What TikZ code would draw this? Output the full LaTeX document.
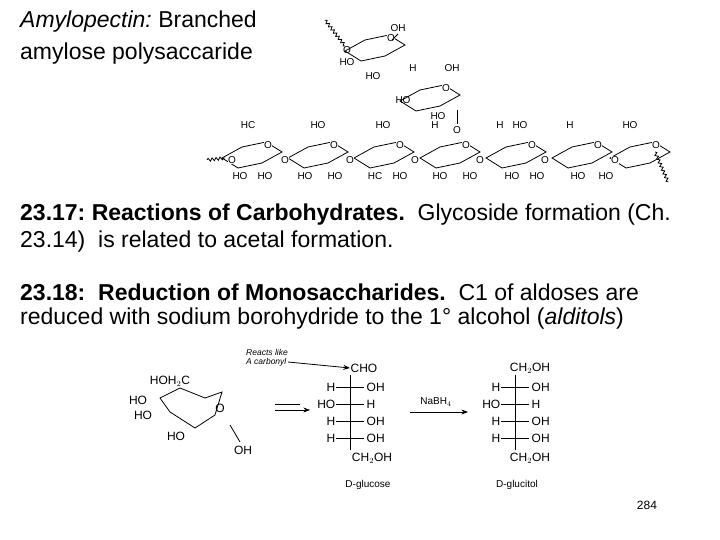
\documentclass[tikz,border=0pt]{standalone}
\usepackage{fontspec}
\setmainfont{Liberation Sans}
\usetikzlibrary{arrows.meta,decorations.pathmorphing}
\frenchspacing
\begin{document}
\begin{tikzpicture}[x=1pt,y=-1pt,
  big/.style={anchor=west,inner sep=0,font=\fontsize{23}{27}\selectfont},
  lbl/.style={inner sep=0.5,font=\fontsize{10}{11}\selectfont},
  sm/.style={inner sep=0.5,font=\fontsize{12}{13}\selectfont},
  bond/.style={line width=0.8pt},
  wig/.style={decorate,decoration={snake,amplitude=1.5pt,segment length=4pt}},
  chair/.pic={\draw[bond] (-30,3)--(-14,13)--(10,8)--(30,-3)--(14,-13)--(-10,-8)--cycle;
    \node[lbl,fill=white] at (16,-10) {O};}]
\useasboundingbox (0,0) rectangle (720,540);
\node[big] (t1) at (20,22) {\textit{Amylopectin:} Branched};
\node[big] (t2) at (20,54) {amylose polysaccaride};
% branch rings
\pic at (375,48) {chair};
\pic at (430,98) {chair};
\node[lbl] (a1) at (398,28) {OH};
\node[lbl] (a2) at (347,50) {O};
\node[lbl] (a3) at (347,62) {HO};
\node[lbl] (a4) at (373,76) {HO};
\node[lbl] (a5) at (413,68) {H};
\node[lbl] (a6) at (452,68) {OH};
\node[lbl] (a7) at (403,100) {HO};
\node[lbl] (a8) at (438,116) {HO};
\node[lbl] (a9) at (457,130) {O};
\draw[bond,wig] (345,46)--(325,20);
\draw[bond] (398,34)--(392,40);
\draw[bond] (457,110)--(457,124);
% main chain
\foreach \i/\x in {1/252,2/318,3/384,4/450,5/516,6/582,7/640}{
  \pic at (\x,155) {chair};}
\foreach \x/\t in {248/HC,318/HO,383/HO,435/H,500/H,520/HO,570/H,630/HO}{
  \node[lbl] at (\x,125) {\t};}
\foreach \x/\t in {240/HO,265/HO,305/HO,335/HO,375/HC,400/HO,440/HO,470/HO,512/HO,537/HO,578/HO,606/HO}{
  \node[lbl] at (\x,176) {\t};}
\foreach \x in {232,285,350,415,480,545,615}{\node[lbl,fill=white] at (\x,160) {O};}
\draw[bond,wig] (207,160)--(225,158);
\draw[bond,wig] (655,152)--(668,182);
% headings
\node[big] (h1) at (20,215) {\textbf{23.17: Reactions of Carbohydrates.} \ Glycoside formation (Ch.};
\node[big] (h2) at (20,242) {23.14) \ is related to acetal formation.};
\node[big] (h3) at (20,292) {\textbf{23.18: \ Reduction of Monosaccharides.} \ C1 of aldoses are};
\node[big] (h4) at (20,319) {reduced with sodium borohydride to the 1° alcohol (\textit{alditols})};
% glucose ring
\draw[bond] (160,398)--(180,388)--(205,398)--(222,392)--(215,415)--(195,428)--(170,412)--cycle;
\node[sm] (g1) at (170,381) {HOH$_2$C};
\node[sm] (g2) at (138,400) {HO};
\node[sm] (g3) at (143,415) {HO};
\node[sm] (g4) at (176,436) {HO};
\node[sm] (g5) at (220,408) {O};
\node[sm] (g6) at (243,450) {OH};
\draw[bond] (230,425)--(240,442);
% arrows
\draw[bond,-{Stealth}] (275,410)--(310,410);
\draw[bond] (275,404)--(300,404);
\node[font=\fontsize{8.5}{9.5}\selectfont\itshape,align=left,anchor=west,inner sep=0] (r) at (246,358) {Reacts like\\A carbonyl};
\node[sm] (cho) at (364,368) {CHO};
\draw[bond,-{Stealth}] (r.east)+(0,4)--(cho.west);
\draw[bond,-{Stealth}] (410,412)--(468,412);
\node[lbl] (nab) at (436,402) {NaBH$_4$};
% Fischer left
\draw[bond] (350,375)--(350,450);
\foreach \y/\l/\r in {387/H/OH,404/HO/H,421/H/OH,438/H/OH}{
  \draw[bond] (336,\y)--(364,\y);
  \node[sm,anchor=east] at (336,\y) {\l};
  \node[sm,anchor=west] at (366,\y) {\r};}
\node[sm] (c1) at (372,458) {CH$_2$OH};
\node[lbl] (dg) at (368,485) {D-glucose};
% Fischer right
\draw[bond] (515,375)--(515,450);
\foreach \y/\l/\r in {387/H/OH,404/HO/H,421/H/OH,438/H/OH}{
  \draw[bond] (501,\y)--(529,\y);
  \node[sm,anchor=east] at (501,\y) {\l};
  \node[sm,anchor=west] at (531,\y) {\r};}
\node[sm] (c2) at (530,368) {CH$_2$OH};
\node[sm] (c3) at (530,458) {CH$_2$OH};
\node[lbl] (dgl) at (517,485) {D-glucitol};
\node[sm] (p) at (647,505) {284};
\end{tikzpicture}
\end{document}
